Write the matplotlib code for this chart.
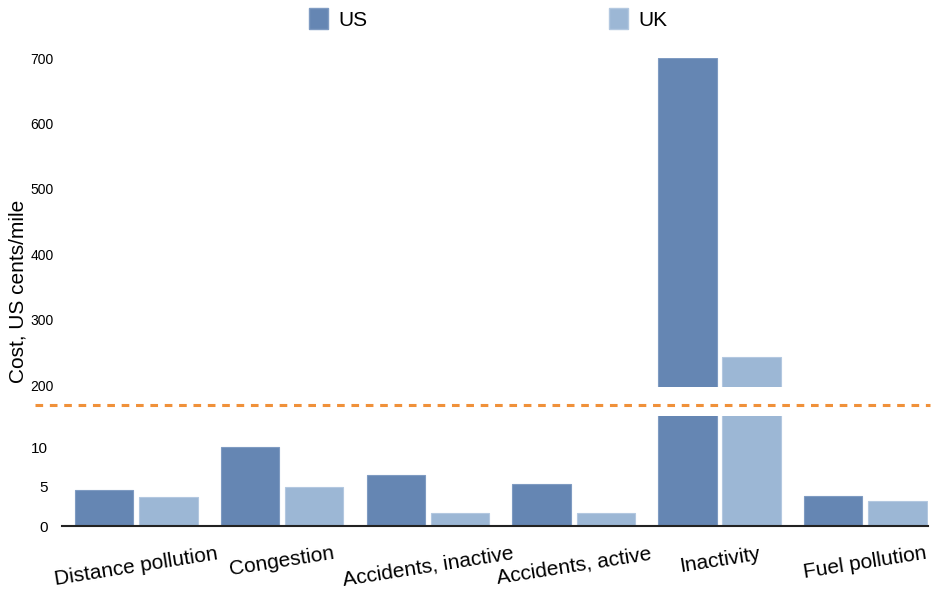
import numpy as np
import matplotlib
matplotlib.use("Agg")
import matplotlib.pyplot as plt
from matplotlib.lines import Line2D
from matplotlib.patches import Patch

plt.rcParams['font.family'] = ['Liberation Sans', 'DejaVu Sans']

# data (US cents/mile)
categories = ["Distance pollution", "Congestion", "Accidents, inactive",
              "Accidents, active", "Inactivity", "Fuel pollution"]
us_values = [4.6, 10.1, 6.5, 5.4, 700, 3.8]
uk_values = [3.7, 5.0, 1.7, 1.7, 243, 3.2]
upper_ticks = [200, 300, 400, 500, 600, 700]
lower_ticks = [0, 5, 10]

US_COLOR = '#6586b3'
UK_COLOR = '#9cb7d5'

W, H = 933, 597
fig = plt.figure(figsize=(W / 100, H / 100), dpi=100)

left = 62 / W
width = (928 - 62) / W

def fy(px):
    return 1 - px / H

ax_top = fig.add_axes([left, fy(387), width, fy(58) - fy(387)])
ax_bot = fig.add_axes([left, fy(526), width, fy(416) - fy(526)])

x = np.arange(len(categories))
bw = 0.40
off = 0.22

for ax in (ax_top, ax_bot):
    ax.bar(x - off, us_values, bw, color=US_COLOR, edgecolor='#7f9bc2', linewidth=0.8)
    ax.bar(x + off, uk_values, bw, color=UK_COLOR, edgecolor='#b3c8e0', linewidth=0.8)
    ax.set_xlim(-0.51, 5.43)
    for s in ['top', 'right', 'left', 'bottom']:
        ax.spines[s].set_visible(False)
    ax.tick_params(axis='y', length=0)

ax_top.set_ylim(197, 700)
ax_top.set_yticks(upper_ticks)
ax_top.tick_params(axis='y', labelsize=10, pad=6)
ax_top.set_xticks([])

ax_bot.set_ylim(0, 14.1)
ax_bot.set_yticks(lower_ticks)
ax_bot.tick_params(axis='y', labelsize=11, pad=10)
ax_bot.spines['bottom'].set_visible(True)
ax_bot.spines['bottom'].set_color('#222222')
ax_bot.spines['bottom'].set_linewidth(1.5)
ax_bot.set_xticks(x)
ax_bot.set_xticklabels(categories, rotation=9, ha='center', fontsize=15)
ax_bot.tick_params(axis='x', length=0, pad=13)

# break marker between the two panels
fig.add_artist(Line2D([35 / W, 930 / W], [fy(405), fy(405)], color='#f0913a',
                      linewidth=2.2, linestyle=(0, (2.5, 2.2))))

fig.text(18 / W, fy(291), "Cost, US cents/mile", rotation=90,
         ha='center', va='center', fontsize=15)

handles = [Patch(facecolor=US_COLOR, edgecolor='#7f9bc2'),
           Patch(facecolor=UK_COLOR, edgecolor='#b3c8e0')]
fig.legend(handles, ["US", "UK"], loc='upper left', bbox_to_anchor=(309 / W, fy(8)),
           ncol=2, frameon=False, fontsize=15, handlelength=0.9, handleheight=1.2,
           handletextpad=0.5, columnspacing=11.6, borderpad=0, borderaxespad=0)

fig.savefig("out.png", dpi=100)
